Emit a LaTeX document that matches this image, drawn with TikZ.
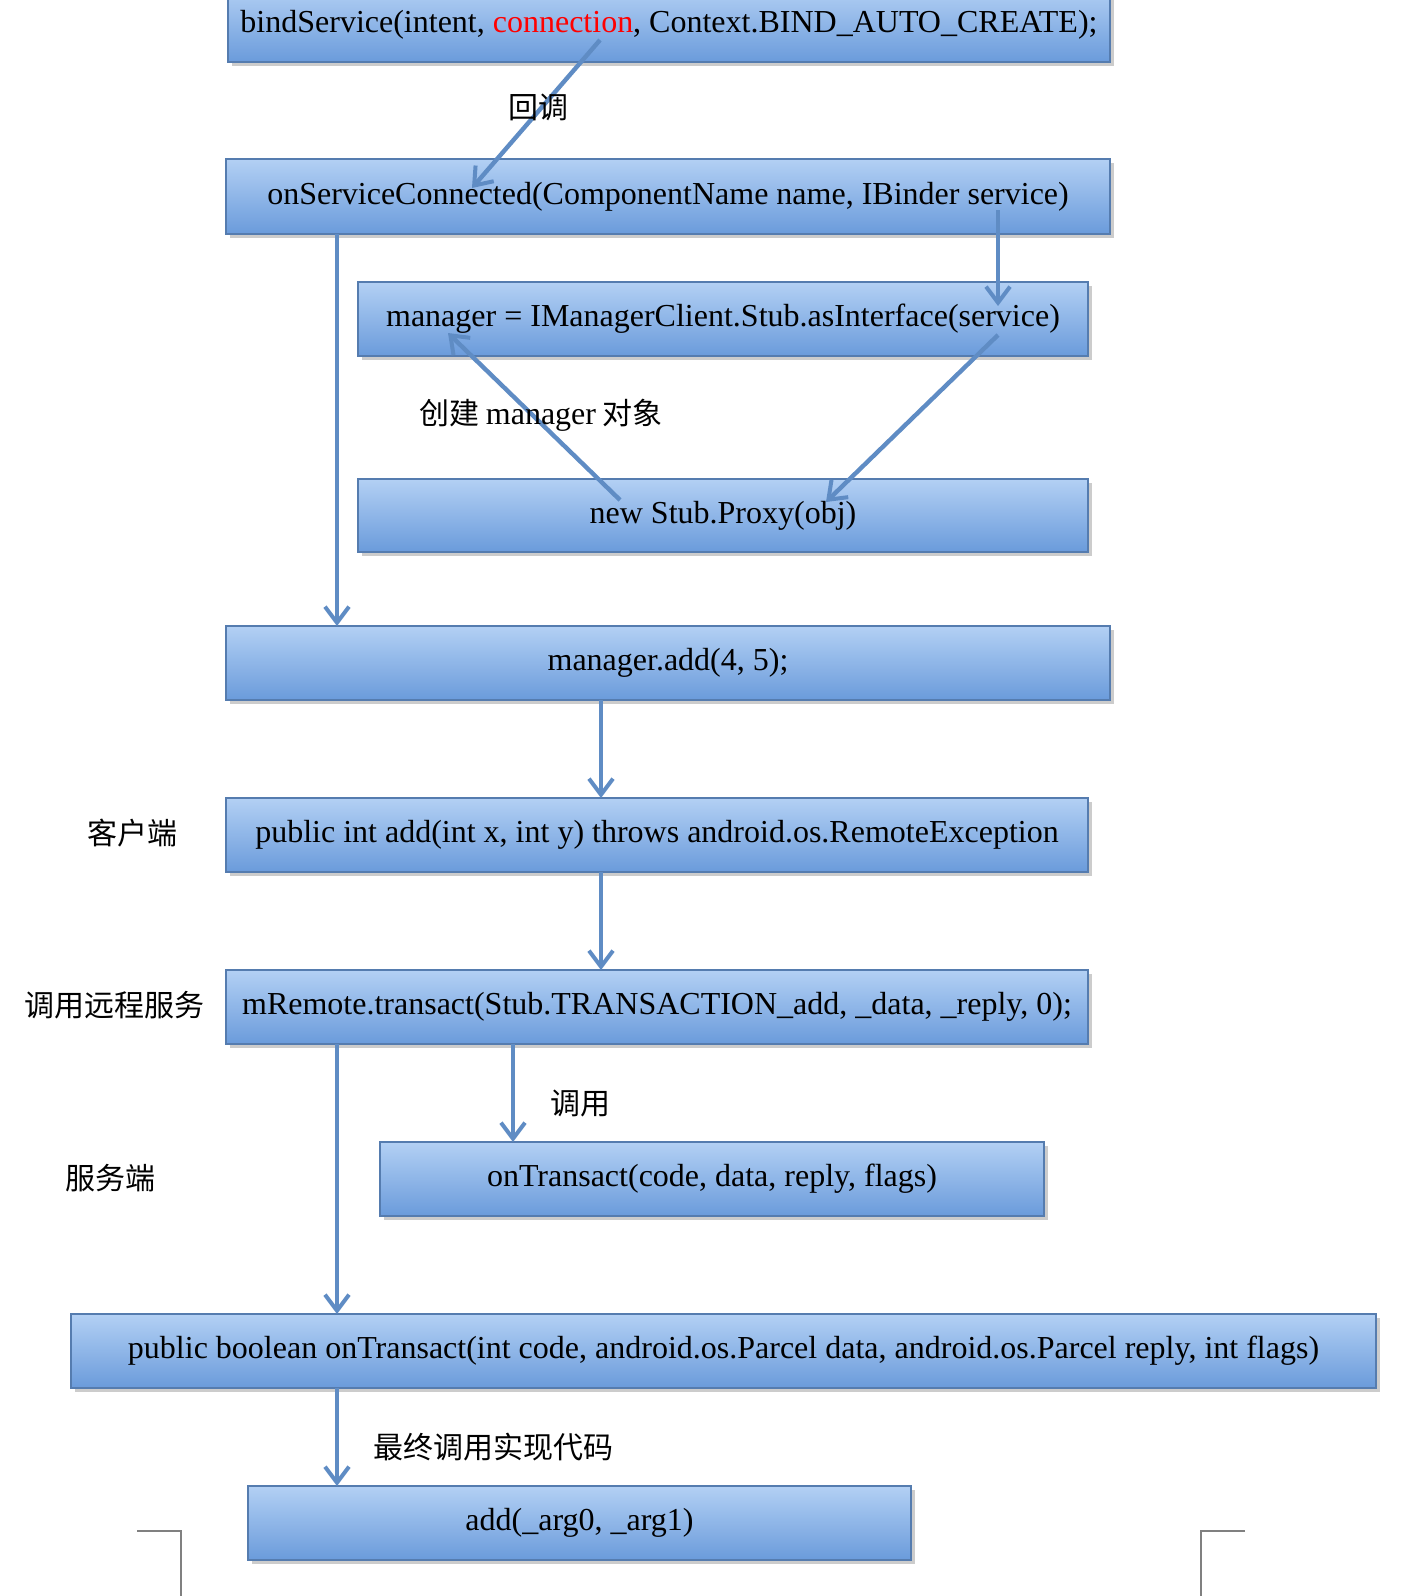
\documentclass[tikz,border=0pt]{standalone}
\usepackage{fontspec}
\setmainfont{Liberation Serif}
\newfontfamily\cjk{Noto Sans CJK SC}
\usetikzlibrary{arrows.meta,shadows}
\definecolor{boxtop}{HTML}{B3D0F4}
\definecolor{boxbot}{HTML}{6A9BDB}
\definecolor{arr}{HTML}{5F8CC4}
\tikzset{
  bx/.style={draw=boxbot!80!black, line width=0.6pt, top color=boxtop, bottom color=boxbot,
    drop shadow={shadow xshift=2pt, shadow yshift=-2pt, fill=black!40}},
  ar/.style={draw=arr, line width=2.2pt, -{Straight Barb[length=8pt,width=12pt,line width=2pt]}},
  lb/.style={font=\cjk\fontsize{15}{18}\selectfont, inner sep=0pt},
  crn/.style={draw=black!50, line width=0.6pt}
}
\begin{document}
\begin{tikzpicture}[x=0.5pt,y=-0.5pt]
\useasboundingbox (0,0) rectangle (1428,1596);
\clip (0,0) rectangle (1428,1596);
\newcommand\bx[6]{\path[bx] (#2,#3) rectangle (#4,#5); \node (#1) at ({(#2+#4)/2},{(#3+#5)/2}) {\fontsize{16}{19}\selectfont #6};}
\bx{b1}{228}{-13}{1110}{62}{bindService(intent, \textcolor{red}{connection}, Context.BIND\_AUTO\_CREATE);}
\bx{b2}{226}{159}{1110}{234}{onServiceConnected(ComponentName name, IBinder service)}
\bx{b3}{358}{282}{1088}{356}{manager = IManagerClient.Stub.asInterface(service)}
\bx{b4}{358}{479}{1088}{552}{new Stub.Proxy(obj)}
\bx{b5}{226}{626}{1110}{700}{manager.add(4, 5);}
\bx{b6}{226}{798}{1088}{872}{public int add(int x, int y) throws android.os.RemoteException}
\bx{b7}{226}{970}{1088}{1044}{mRemote.transact(Stub.TRANSACTION\_add, \_data, \_reply, 0);}
\bx{b8}{380}{1142}{1044}{1216}{onTransact(code, data, reply, flags)}
\bx{b9}{71}{1314}{1376}{1388}{public boolean onTransact(int code, android.os.Parcel data, android.os.Parcel reply, int flags)}
\bx{b10}{248}{1486}{911}{1560}{add(\_arg0, \_arg1)}
\coordinate (a1s) at (600,40); \coordinate (a1e) at (472,188);
\draw[ar] (a1s) -- (a1e);
\coordinate (a2s) at (337,234); \coordinate (a2e) at (337,626);
\draw[ar] (a2s) -- (a2e);
\coordinate (a3s) at (998,210); \coordinate (a3e) at (998,306);
\draw[ar] (a3s) -- (a3e);
\coordinate (a4s) at (998,335); \coordinate (a4e) at (826,502);
\draw[ar] (a4s) -- (a4e);
\coordinate (a5s) at (620,500); \coordinate (a5e) at (448,333);
\draw[ar] (a5s) -- (a5e);
\coordinate (a6s) at (601,700); \coordinate (a6e) at (601,798);
\draw[ar] (a6s) -- (a6e);
\coordinate (a7s) at (601,872); \coordinate (a7e) at (601,970);
\draw[ar] (a7s) -- (a7e);
\coordinate (a8s) at (513,1044); \coordinate (a8e) at (513,1142);
\draw[ar] (a8s) -- (a8e);
\coordinate (a9s) at (337,1044); \coordinate (a9e) at (337,1314);
\draw[ar] (a9s) -- (a9e);
\coordinate (a10s) at (337,1388); \coordinate (a10e) at (337,1486);
\draw[ar] (a10s) -- (a10e);
\node[lb] (l1) at (538,107) {回调};
\node[lb] (l2) at (541,415) {创建 {\fontspec{Liberation Serif}\fontsize{16}{19}\selectfont manager} 对象};
\node[lb] (l3) at (580,1103) {调用};
\node[lb] (l4) at (493,1447) {最终调用实现代码};
\node[lb] (l5) at (132,833) {客户端};
\node[lb] (l6) at (115,1005) {调用远程服务};
\node[lb] (l7) at (110,1178) {服务端};
\draw[crn] (137,1531) -- (181,1531) -- (181,1600);
\draw[crn] (1245,1531) -- (1201,1531) -- (1201,1600);
\end{tikzpicture}
\end{document}
